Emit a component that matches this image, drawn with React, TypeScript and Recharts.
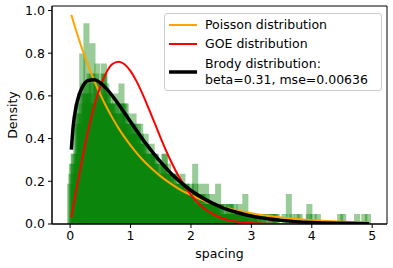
import React from "react";
import { ComposedChart, Area, Line, XAxis, YAxis, Label, ReferenceArea } from "recharts";

// histogram layers: counts per bin, bin width 0.1, each layer starts a bit differently
const binWidth = 0.1;
const densityPerCount = 0.047;

const layerStarts = [0.02, -0.05, 0.0, -0.03, 0.01, -0.02];

const countsA = [7, 13, 20, 18, 13, 15, 12, 11, 12, 10, 10, 9, 7, 7, 6, 7, 5, 4, 4, 3, 6, 3, 2, 2, 2, 1, 2, 1, 1, 1, 1, 1, 0, 1, 0, 0, 1, 0, 0, 0, 0, 0, 0, 0, 1, 0, 0, 0, 1, 0];
const countsB = [4, 10, 17, 14, 12, 13, 14, 12, 11, 12, 9, 9, 8, 6, 7, 5, 5, 5, 3, 4, 4, 2, 3, 2, 2, 2, 1, 1, 2, 3, 0, 1, 1, 0, 1, 0, 0, 0, 1, 0, 0, 1, 0, 0, 0, 0, 0, 0, 0, 0];
const countsC = [6, 11, 13, 12, 16, 15, 12, 13, 14, 11, 11, 8, 9, 8, 5, 6, 4, 5, 4, 3, 3, 4, 4, 3, 4, 2, 2, 1, 1, 1, 1, 0, 1, 1, 0, 1, 0, 0, 0, 1, 0, 0, 0, 0, 0, 0, 0, 1, 0, 0];
const countsD = [5, 12, 14, 15, 14, 12, 13, 11, 10, 12, 10, 10, 8, 7, 7, 5, 6, 4, 4, 4, 3, 3, 2, 2, 2, 1, 1, 2, 1, 1, 1, 1, 0, 0, 1, 0, 3, 0, 0, 0, 0, 0, 0, 0, 0, 1, 0, 0, 0, 0];
const countsE = [7, 10, 13, 15, 14, 16, 13, 12, 11, 10, 9, 10, 8, 7, 6, 7, 5, 4, 5, 3, 4, 3, 3, 2, 2, 2, 1, 1, 1, 1, 1, 1, 1, 0, 0, 0, 0, 1, 0, 2, 0, 0, 0, 0, 0, 0, 0, 0, 0, 0];
const countsF = [6, 11, 12, 13, 15, 14, 13, 12, 12, 10, 10, 9, 7, 7, 6, 6, 5, 5, 4, 4, 3, 2, 2, 2, 2, 1, 2, 1, 1, 1, 1, 0, 0, 1, 0, 0, 0, 0, 0, 0, 1, 0, 0, 0, 0, 0, 0, 0, 0, 1];
const layerCounts = [countsA, countsB, countsC, countsD, countsE, countsF];

// theoretical curves
const poissonX = [0.02, 0.1, 0.2, 0.3, 0.4, 0.5, 0.6, 0.7, 0.8, 0.9, 1.0, 1.1, 1.2, 1.3, 1.4, 1.5, 1.6, 1.8, 2.0, 2.25, 2.5, 2.75, 3.0, 3.5, 4.0, 4.5, 4.95];
const poissonY = [0.98, 0.905, 0.819, 0.741, 0.67, 0.607, 0.549, 0.497, 0.449, 0.407, 0.368, 0.333, 0.301, 0.273, 0.247, 0.223, 0.202, 0.165, 0.135, 0.105, 0.082, 0.064, 0.05, 0.03, 0.018, 0.011, 0.007];

const goeX = [0.02, 0.1, 0.2, 0.3, 0.4, 0.5, 0.6, 0.7, 0.8, 0.9, 1.0, 1.1, 1.2, 1.3, 1.4, 1.5, 1.6, 1.8, 2.0, 2.2, 2.4, 2.6, 2.8, 3.0, 3.5, 4.0, 4.5, 4.95];
const goeY = [0.031, 0.156, 0.304, 0.439, 0.554, 0.645, 0.71, 0.749, 0.76, 0.748, 0.716, 0.668, 0.608, 0.541, 0.472, 0.402, 0.336, 0.222, 0.136, 0.077, 0.041, 0.02, 0.009, 0.004, 0.0002, 0, 0, 0];

const brodyX = [0.02, 0.05, 0.1, 0.15, 0.2, 0.3, 0.4, 0.5, 0.6, 0.75, 1.0, 1.25, 1.5, 1.75, 2.0, 2.25, 2.5, 2.75, 3.0, 3.5, 4.0, 4.5, 4.95];
const brodyY = [0.348, 0.456, 0.551, 0.606, 0.64, 0.672, 0.676, 0.661, 0.634, 0.581, 0.479, 0.378, 0.29, 0.215, 0.157, 0.113, 0.079, 0.055, 0.037, 0.017, 0.007, 0.003, 0.0013];

const xTicks = [0, 1, 2, 3, 4, 5];
const yTicks = [0, 0.2, 0.4, 0.6, 0.8, 1.0];
const xDomain = [-0.3, 5.245];
const yDomain = [0, 1.021];

const font = "'DejaVu Sans', sans-serif";

const toPoints = (xs: number[], ys: number[]) => xs.map((x, i) => ({ x, y: ys[i] }));

const histLayers = layerCounts.map((counts, k) => {
    const start = layerStarts[k];
    const pts = counts.map((c, i) => ({ x: start + i * binWidth, y: c * densityPerCount }));
    pts.push({ x: start + counts.length * binWidth, y: counts[counts.length - 1] * densityPerCount });
    return pts;
});

const LegendBox = () => {
    const row = (top: number, color: string, width: number) => (
        <svg style={{ position: "absolute", left: 3, top: top - 3, width: 30, height: 6 }}>
            <line x1={1} x2={29} y1={3} y2={3} stroke={color} strokeWidth={width} />
        </svg>
    );
    const text = (top: number, s: string) => (
        <div style={{ position: "absolute", left: 40, top: top - 8, lineHeight: "16px", whiteSpace: "nowrap" }}>{s}</div>
    );
    return (
        <div
            style={{
                position: "absolute",
                left: 164,
                top: 13,
                width: 216,
                height: 76,
                border: "1px solid #cccccc",
                borderRadius: 3,
                background: "rgba(255,255,255,0.8)",
                fontFamily: font,
                fontSize: 12.5,
                color: "#000",
            }}
        >
            {row(11, "orange", 2)}
            {text(11, "Poisson distribution")}
            {row(29.5, "red", 2)}
            {text(29.5, "GOE distribution")}
            {row(58, "black", 3.5)}
            {text(50, "Brody distribution:")}
            {text(66, "beta=0.31, mse=0.00636")}
        </div>
    );
};

export default function App() {
    const tickStyle = { fill: "#000", fontSize: 12.5, fontFamily: font };
    return (
        <div style={{ position: "relative", width: 393, height: 268 }}>
            <style>{`body { margin: 0; }`}</style>
            <ComposedChart width={393} height={268} margin={{ top: 6, right: 6, bottom: 0, left: 0 }}>
                <XAxis
                    dataKey="x"
                    type="number"
                    domain={xDomain}
                    allowDataOverflow
                    ticks={xTicks}
                    height={44}
                    tick={tickStyle}
                    tickSize={4}
                    tickMargin={3}
                    stroke="#000"
                >
                    <Label
                        content={() => (
                            <text x={219.5} y={258} textAnchor="middle" fontFamily={font} fontSize={12.5} fill="#000">
                                spacing
                            </text>
                        )}
                    />
                </XAxis>
                <YAxis
                    type="number"
                    domain={yDomain}
                    allowDataOverflow
                    ticks={yTicks}
                    tickFormatter={(v: number) => v.toFixed(1)}
                    width={52}
                    tick={tickStyle}
                    tickSize={4}
                    tickMargin={3}
                    stroke="#000"
                >
                    <Label
                        content={() => (
                            <text x={13} y={115} transform="rotate(-90, 13, 115)" textAnchor="middle" dominantBaseline="middle" fontFamily={font} fontSize={12.5} fill="#000">
                                Density
                            </text>
                        )}
                    />
                </YAxis>

                {histLayers.map((pts, k) => (
                    <Area
                        key={k}
                        data={pts}
                        dataKey="y"
                        type="stepAfter"
                        stroke="none"
                        fill="#008000"
                        fillOpacity={0.4}
                        isAnimationActive={false}
                        dot={false}
                        activeDot={false}
                    />
                ))}

                <Line data={toPoints(poissonX, poissonY)} dataKey="y" type="monotone" stroke="orange" strokeWidth={2} dot={false} activeDot={false} isAnimationActive={false} />
                <Line data={toPoints(goeX, goeY)} dataKey="y" type="monotone" stroke="red" strokeWidth={2} dot={false} activeDot={false} isAnimationActive={false} />
                <Line data={toPoints(brodyX, brodyY)} dataKey="y" type="monotone" stroke="black" strokeWidth={3.5} dot={false} activeDot={false} isAnimationActive={false} />

                {/* plot frame */}
                <ReferenceArea x1={xDomain[0]} x2={xDomain[1]} y1={yDomain[0]} y2={yDomain[1]} fill="none" stroke="#000" strokeWidth={1} ifOverflow="visible" />
            </ComposedChart>
            <LegendBox />
        </div>
    );
}
